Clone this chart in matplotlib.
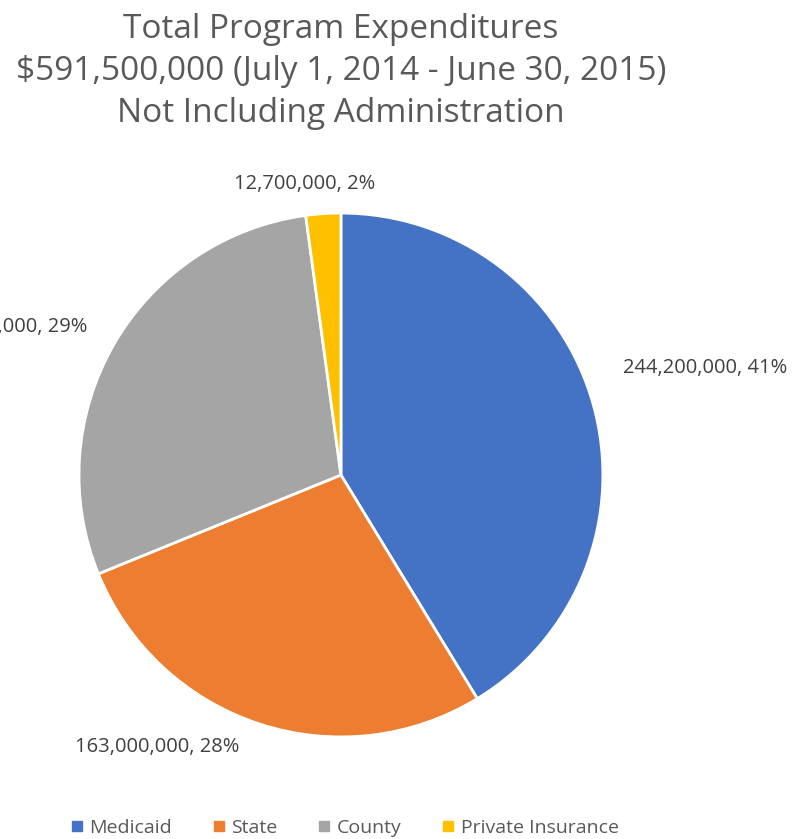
import matplotlib.pyplot as plt
from matplotlib.lines import Line2D

categories = ["Medicaid", "State", "County", "Private Insurance"]
values = [244200000, 163000000, 171600000, 12700000]
percents = ["41%", "28%", "29%", "2%"]
colors = ["#4472C4", "#ED7D31", "#A5A5A5", "#FFC000"]

labels = [f"{v:,}, {p}" for v, p in zip(values, percents)]

plt.rcParams['font.family'] = ['Open Sans', 'DejaVu Sans']
fig = plt.figure(figsize=(8.06, 8.39), dpi=100)
ax = fig.add_axes([0.098, 0.1216, 0.650, 0.6245])

wedges, texts = ax.pie(values, colors=colors, startangle=90, counterclock=False,
                       labels=labels, labeldistance=1.3,
                       wedgeprops=dict(edgecolor="white", linewidth=2),
                       textprops=dict(color="#404040", fontsize=14.5))
ax.set_xlim(-1, 1)
ax.set_ylim(-1, 1)
ax.set_aspect("equal")

# label positions, similar to the excel layout
label_pos = [(1.39, 0.41), (-0.70, -1.04), (-1.28, 0.565), (-0.137, 1.11)]
for t, (x, y) in zip(texts, label_pos):
    t.set_position((x, y))
    t.set_ha("center")
    t.set_va("center")

fig.text(0.423, 0.985, "Total Program Expenditures\n$591,500,000 (July 1, 2014 - June 30, 2015)\nNot Including Administration",
         ha="center", va="top", fontsize=24, color="#595959", linespacing=1.36)

handles = [Line2D([], [], marker="s", linestyle="", color=c, markersize=7) for c in colors]
fig.legend(handles, categories, loc="center", bbox_to_anchor=(0.428, 0.013), ncol=4,
           frameon=False, fontsize=14, labelcolor="#595959", handlelength=0.6,
           handletextpad=0.35, columnspacing=2.1)

fig.savefig("out.png", dpi=100)
